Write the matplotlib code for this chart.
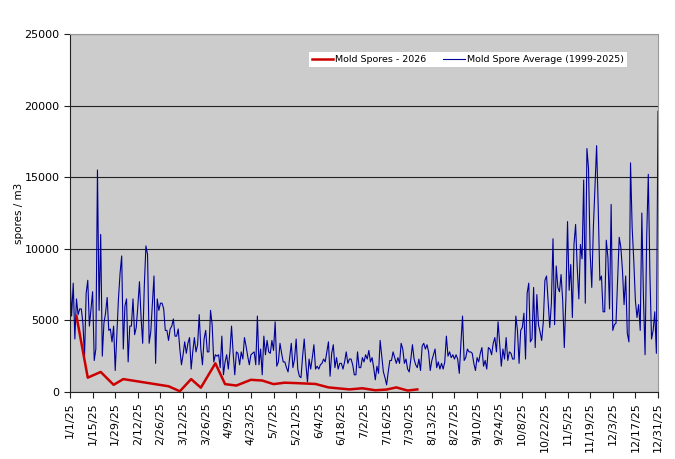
import numpy as np
import pandas as pd
import matplotlib
matplotlib.use("Agg")
import matplotlib.pyplot as plt

# Daily average (1999-2025), in 6 chunks
avg_jan_feb = [8000, 5300, 7600, 3700, 6500, 5400, 5800, 5800, 4800, 2500,
               6900, 7800, 4600, 5800, 7000, 2200, 3000, 15500, 5700, 11000,
               2500, 4800, 5500, 6600, 4300, 4400, 3500, 4600, 1500, 4000,
               6500, 8300, 9500, 3000, 6000, 6500, 2100, 4600, 4600, 6500,
               4000, 4500, 6000, 7700, 5200, 3400, 7400, 10200, 9600, 3400,
               4200, 6200, 8100, 2000, 6500, 5700, 6200, 6200, 5800, 4300,
               4300, 3600]
avg_mar_may = [4400, 4600, 5100, 3900, 3900, 4400, 3000, 1900, 2600, 3500,
               2700, 3400, 3800, 1600, 2800, 3800, 2800, 3300, 5400, 3000,
               1900, 3700, 4300, 2800, 2800, 5700, 4700, 2100, 2600, 2500,
               2600, 1700, 3900, 1200, 2100, 2600, 1600, 2800, 4600, 2700,
               1200, 2800, 2700, 1900, 2800, 2300, 3800, 3200, 2500, 1900,
               2600, 2700, 2800, 1900, 5300, 1900, 3000, 1200, 3900, 2600,
               3600, 2800]
avg_may_jul = [2700, 3600, 2900, 4900, 1800, 2100, 3400, 2700, 2100, 2100,
               1700, 1400, 2400, 3400, 1700, 2300, 3700, 1600, 1100, 1000,
               2500, 3700, 2000, 700, 2300, 1600, 2400, 3300, 1600, 1800,
               1600, 1900, 2000, 2300, 2100, 2800, 3500, 1100, 2700, 3300,
               1700, 2400, 1600, 2000, 2000, 1600, 2100, 2800, 2000, 2300,
               2300, 1900, 1200, 1200, 2800, 1700, 1700, 2400, 2100, 2600,
               2300, 2900]
avg_jul_sep = [2100, 2400, 1700, 850, 1800, 1300, 3600, 2500, 1400, 1000,
               500, 1400, 2200, 2200, 2800, 2400, 2000, 2400, 2000, 3400,
               3000, 2000, 2300, 1600, 1400, 2300, 3300, 2300, 1900, 1700,
               2300, 1500, 3200, 3400, 3000, 3300, 2800, 1500, 2200, 2600,
               3000, 1700, 2100, 1600, 2000, 1600, 2100, 3900, 2500, 2800,
               2400, 2600, 2300, 2600, 2300, 1300, 3400, 5300, 2200, 2400,
               3000, 2800]
avg_sep_nov = [2800, 2700, 2000, 1500, 2400, 2100, 2700, 3100, 1800, 2200,
               1600, 3100, 3000, 2600, 3400, 3800, 2800, 4900, 3400, 1800,
               3000, 2300, 3800, 2200, 2800, 2700, 2300, 2300, 5300, 4300,
               2000, 4300, 4500, 5500, 2300, 6900, 7600, 3500, 3700, 7300,
               3100, 6800, 4700, 4200, 3600, 4900, 7800, 8100, 6300, 4500,
               6200, 10700, 4700, 8800, 7300, 7000, 8200, 6400, 3100]
avg_nov_dec = [6600, 11900, 7100, 8900, 5200, 10300, 11700, 8700, 6500, 10300,
               9300, 14800, 6200, 17000, 15600, 9700, 7300, 11500, 14300, 17200,
               12900, 7800, 8100, 5600, 5600, 10600, 9400, 5800, 13100, 4300,
               4700, 4800, 7800, 10800, 10100, 8500, 6100, 8100, 4100, 3500,
               16000, 11500, 9200, 6400, 5200, 6100, 4300, 12500, 6600, 2600,
               10800, 15200, 8200, 3700, 4300, 5600, 2700, 19600]

# 2026 samples (plotted on the 2025 calendar axis)
spore_dates = ["2025-01-05", "2025-01-12", "2025-01-20", "2025-01-28", "2025-02-03",
               "2025-02-17", "2025-03-03", "2025-03-10", "2025-03-17", "2025-03-23",
               "2025-04-01", "2025-04-07", "2025-04-14", "2025-04-23", "2025-04-30",
               "2025-05-07", "2025-05-14", "2025-05-21", "2025-06-02", "2025-06-10",
               "2025-06-23", "2025-07-01", "2025-07-09", "2025-07-16", "2025-07-22",
               "2025-07-29", "2025-08-04"]
spore_vals = [5300, 1000, 1400, 500, 900, 650, 400, 50, 900, 300,
              2000, 550, 450, 850, 800, 550, 650, 620, 560, 320,
              180, 260, 120, 170, 320, 100, 180]

avg_vals = avg_jan_feb + avg_mar_may + avg_may_jul + avg_jul_sep + avg_sep_nov + avg_nov_dec
avg_dates = pd.date_range("2025-01-01", periods=len(avg_vals), freq="D")
spore_dates = pd.to_datetime(spore_dates)

fig = plt.figure(figsize=(6.75, 4.59), dpi=100)
ax = fig.add_axes([0.1037, 0.146, 0.8711, 0.780])
ax.set_facecolor("#cccccc")

ax.plot(spore_dates, spore_vals, color="#cc0000", lw=1.8, label="Mold Spores - 2026", zorder=3)
ax.plot(avg_dates, avg_vals, color="#000099", lw=0.8, label="Mold Spore Average (1999-2025)", zorder=2)

ax.set_xlim(avg_dates[0], avg_dates[-1])
ax.set_ylim(0, 25000)
ax.set_yticks(np.arange(0, 25001, 5000))
ax.yaxis.grid(True, color="#222222", lw=0.8)
ax.set_axisbelow(True)

ticks = pd.date_range("2025-01-01", "2025-12-31", freq="14D")
ax.set_xticks(ticks)
ax.set_xticklabels([f"{d.month}/{d.day}/{d.strftime('%y')}" for d in ticks], rotation=90)
ax.tick_params(axis="both", labelsize=8, length=4, width=0.8, color="#222222")
ax.set_ylabel("spores / m3", fontsize=7.5, labelpad=0)

for s in ["left", "bottom"]:
    ax.spines[s].set_color("#222222")
    ax.spines[s].set_linewidth(0.8)
for s in ["top", "right"]:
    ax.spines[s].set_color("#999999")
    ax.spines[s].set_linewidth(0.8)

leg = ax.legend(loc="upper right", bbox_to_anchor=(0.955, 0.962), ncol=2, fontsize=6.8,
                frameon=True, fancybox=False, framealpha=1, edgecolor="white",
                handlelength=2.3, handletextpad=0.2, columnspacing=1.8,
                borderpad=0.3)
leg.get_frame().set_linewidth(0)

fig.savefig("out.png", dpi=100)
